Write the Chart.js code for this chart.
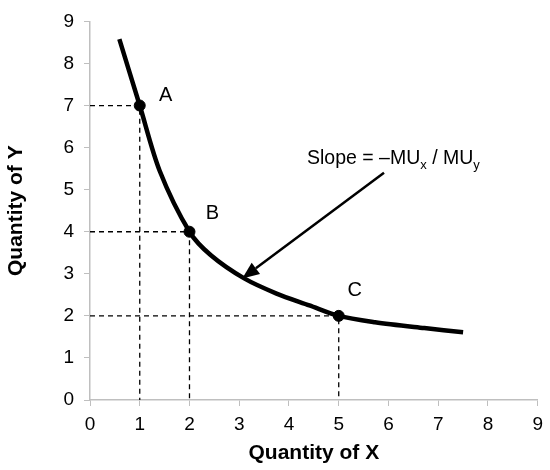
<!DOCTYPE html>
<html>
<head>
<meta charset="utf-8">
<script src="https://cdn.jsdelivr.net/npm/chart.js@4"></script>
<style>
  body { margin: 0; background: #fff; }
  #wrap { width: 550px; height: 470px; }
</style>
</head>
<body>
<div id="wrap"><canvas id="chart"></canvas></div>
<script>
// indifference curve
const curveX = [0.59, 1.0, 1.4, 2.0, 2.43, 3.1, 3.75, 4.41, 5.0, 5.73, 6.72, 7.5];
const curveY = [8.58, 7.0, 5.45, 4.0, 3.44, 2.89, 2.53, 2.25, 2.0, 1.85, 1.71, 1.61];

// marked bundles
const pointNames = ['A', 'B', 'C'];
const pointX = [1, 2, 5];
const pointY = [7, 4, 2];

// arrow from the slope note to the curve
const arrowFrom = [5.91, 5.40];
const arrowTo = [3.06, 2.89];

const xTicks = [0, 1, 2, 3, 4, 5, 6, 7, 8, 9];
const yTicks = [0, 1, 2, 3, 4, 5, 6, 7, 8, 9];

const axisGrey = '#bfbfbf';
const font = '"Liberation Sans", Arial, sans-serif';

const curve = curveX.map((x, i) => ({ x: x, y: curveY[i] }));
const marks = pointX.map((x, i) => ({ x: x, y: pointY[i] }));

// dashed guides from each point down to the axes
const guides = pointX.map((x, i) => ({
    data: [{ x: 0, y: pointY[i] }, { x: x, y: pointY[i] }, { x: x, y: 0 }],
    showLine: true,
    borderColor: '#000',
    borderWidth: 1.3,
    borderDash: [5, 4],
    pointRadius: 0,
    tension: 0
}));

const notes = {
    id: 'notes',
    afterDatasetsDraw(chart) {
        const ctx = chart.ctx;
        const xs = chart.scales.x, ys = chart.scales.y;
        ctx.save();
        ctx.fillStyle = '#000';
        ctx.strokeStyle = '#000';

        // point letters
        const offs = [[26, -10], [23, -18], [16, -25]];
        ctx.font = '20px ' + font;
        ctx.textAlign = 'center';
        ctx.textBaseline = 'middle';
        pointNames.forEach((n, i) => {
            ctx.fillText(n, xs.getPixelForValue(pointX[i]) + offs[i][0],
                ys.getPixelForValue(pointY[i]) + offs[i][1]);
        });

        // arrow
        const x1 = xs.getPixelForValue(arrowFrom[0]), y1 = ys.getPixelForValue(arrowFrom[1]);
        const x2 = xs.getPixelForValue(arrowTo[0]), y2 = ys.getPixelForValue(arrowTo[1]);
        const ang = Math.atan2(y2 - y1, x2 - x1);
        const len = 17, half = 7;
        const bx = x2 - len * Math.cos(ang), by = y2 - len * Math.sin(ang);
        ctx.lineWidth = 2.5;
        ctx.beginPath();
        ctx.moveTo(x1, y1);
        ctx.lineTo(bx, by);
        ctx.stroke();
        ctx.beginPath();
        ctx.moveTo(x2, y2);
        ctx.lineTo(bx + half * Math.sin(ang), by - half * Math.cos(ang));
        ctx.lineTo(bx - half * Math.sin(ang), by + half * Math.cos(ang));
        ctx.closePath();
        ctx.fill();

        // slope note with subscripts
        const parts = [['Slope = \u2013MU', 0], ['x', 1], [' / MU', 0], ['y', 1]];
        let tx = 307;
        const base = 164;
        ctx.textAlign = 'left';
        ctx.textBaseline = 'alphabetic';
        parts.forEach(p => {
            ctx.font = (p[1] ? '13px ' : '19.5px ') + font;
            ctx.fillText(p[0], tx, base + (p[1] ? 5 : 0));
            tx += ctx.measureText(p[0]).width;
        });
        ctx.restore();
    }
};

new Chart(document.getElementById('chart'), {
    type: 'scatter',
    data: {
        datasets: [
            ...guides,
            {
                data: curve,
                showLine: true,
                borderColor: '#000',
                borderWidth: 4.5,
                pointRadius: 0,
                tension: 0.3
            },
            {
                data: marks,
                pointRadius: 5.5,
                pointBackgroundColor: '#000',
                pointBorderColor: '#000'
            }
        ]
    },
    options: {
        responsive: true,
        maintainAspectRatio: false,
        animation: false,
        layout: { padding: { top: 20, right: 5, left: 0, bottom: 0 } },
        plugins: { legend: { display: false }, tooltip: { enabled: false } },
        scales: {
            x: {
                type: 'linear',
                min: 0, max: 9,
                afterBuildTicks: s => { s.ticks = xTicks.map(v => ({ value: v })); },
                afterFit: s => { s.height = 70; },
                grid: { drawOnChartArea: false, color: axisGrey, tickLength: 6 },
                border: { color: axisGrey, width: 1.5 },
                ticks: { color: '#000', padding: 7, font: { family: font, size: 19 } },
                title: {
                    display: true, text: 'Quantity of X', color: '#000',
                    font: { family: font, size: 21, weight: 'bold' }, padding: { top: 2 }
                }
            },
            y: {
                type: 'linear',
                min: 0, max: 9,
                afterBuildTicks: s => { s.ticks = yTicks.map(v => ({ value: v })); },
                afterFit: s => { s.width = 90; },
                grid: { drawOnChartArea: false, color: axisGrey, tickLength: 6 },
                border: { color: axisGrey, width: 1.5 },
                ticks: { color: '#000', padding: 10, font: { family: font, size: 19 } },
                title: {
                    display: true, text: 'Quantity of Y', color: '#000',
                    font: { family: font, size: 21, weight: 'bold' }, padding: { bottom: 10 }
                }
            }
        }
    },
    plugins: [notes]
});
</script>
</body>
</html>
